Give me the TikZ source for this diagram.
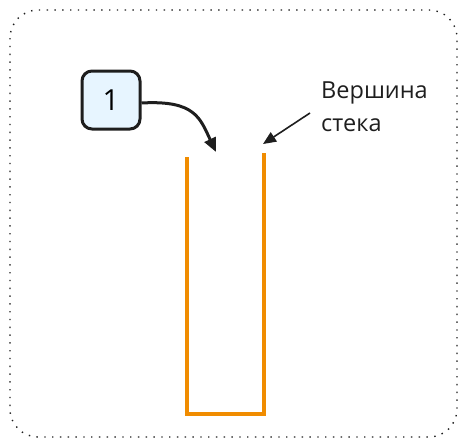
\documentclass[tikz,border=0pt]{standalone}
\usepackage{fontspec}
\setmainfont{Open Sans}
\usetikzlibrary{arrows.meta}
\definecolor{stackorange}{HTML}{F08C00}
\definecolor{boxblue}{HTML}{E7F5FF}
\definecolor{inkgray}{HTML}{1E1E1E}

\begin{document}
\begin{tikzpicture}[x=1pt,y=-1pt,
    numbox/.style={draw=inkgray, line width=3pt, fill=boxblue, rounded corners=10pt,
        minimum width=58pt, minimum height=58pt, font=\fontsize{29}{32}\selectfont},
    note/.style={align=left, font=\fontsize{23.5}{33}\selectfont, text=inkgray},
    stackwall/.style={draw=stackorange, line width=3.4pt}]

    % frame
    \draw[inkgray, line width=1.4pt, dash pattern=on 1.4pt off 6.4pt, rounded corners=28pt]
        (10,10) rectangle (457,437);
    \useasboundingbox (0,0) rectangle (467,447);

    % stack
    \draw[stackwall] (187,157) -- (187,414) -- (264,414) -- (264,153);

    % labels
    \node[numbox] (one) at (111,100) {1};
    \node[note, anchor=north west, inner sep=0pt] (top) at (321,82) {Вершина\\стека};

    % arrows
    \coordinate (tip1) at (216,152);
    \coordinate (tail2) at (310,113);
    \coordinate (tip2) at (263,144);
    \draw[-{Triangle[length=14pt,width=12pt]}, line width=3pt, inkgray]
        (one.east |- 0,103) .. controls (195,100) and (200,118) .. (tip1);
    \draw[-{Triangle[length=13pt,width=11pt]}, line width=1.6pt, inkgray] (tail2) -- (tip2);

\end{tikzpicture}
\end{document}
